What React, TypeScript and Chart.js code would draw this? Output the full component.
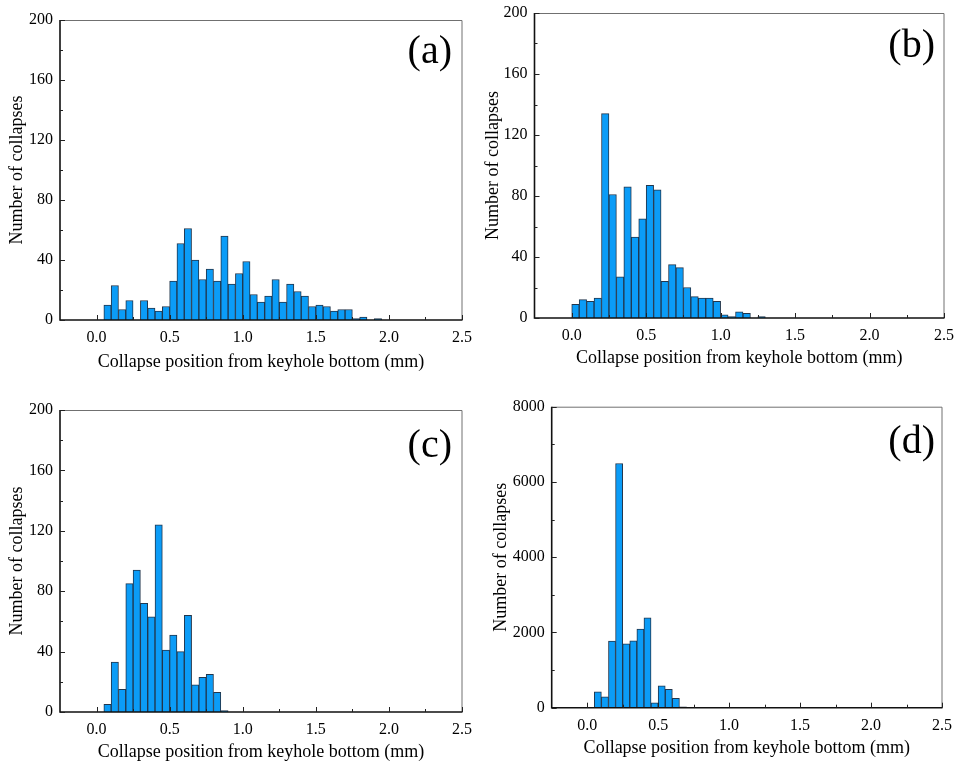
import React, { useEffect, useRef } from "react";
import { Chart, registerables } from "chart.js";
Chart.register(...registerables);

const BIN_WIDTH = 0.05;
const X_MIN = -0.25;
const X_MAX = 2.5;
const X_TICKS = [0, 0.5, 1.0, 1.5, 2.0, 2.5];
const X_MINOR = [0.25, 0.75, 1.25, 1.75, 2.25];
const X_TITLE = "Collapse position from keyhole bottom (mm)";
const Y_TITLE = "Number of collapses";

// histogram counts per 0.05 mm bin, first bin starting at startX
const startA = 0.05;
const countsA = [10, 23, 7, 13, 0, 13, 8, 6, 9, 26, 51, 61, 40, 27, 34, 26, 56, 24, 31, 39, 17, 12, 16, 27, 12, 24, 19, 16, 9, 10, 9, 6, 7, 7, 1, 2, 0, 1];
const startB = 0.0;
const countsB = [9, 12, 11, 13, 134, 81, 27, 86, 53, 65, 87, 84, 24, 35, 33, 20, 14, 13, 13, 11, 2, 1, 4, 3, 0, 1];
const startC = 0.05;
const countsC = [5, 33, 15, 85, 94, 72, 63, 124, 41, 51, 40, 64, 18, 23, 25, 13, 1];
const startD = 0.05;
const countsD = [420, 290, 1770, 6490, 1700, 1780, 2090, 2390, 130, 580, 490, 250, 20];

const yTicks200 = [0, 40, 80, 120, 160, 200];
const yMinor200 = [20, 60, 100, 140, 180];
const yTicks8000 = [0, 2000, 4000, 6000, 8000];
const yMinor8000 = [1000, 3000, 5000, 7000];

const FONT = '"Liberation Serif", "Times New Roman", serif';

type Spec = {
  letter: string;
  start: number;
  counts: number[];
  yTicks: number[];
  yMinor: number[];
  left: number;
  top: number;
  w: number;
  h: number;
  area: { l: number; t: number; r: number; b: number };
  yTitleX: number;
  xTitleY: number;
  letterRight: number;
  letterY: number;
};

const panels: Spec[] = [
  {
    letter: "(a)", start: startA, counts: countsA, yTicks: yTicks200, yMinor: yMinor200,
    left: 0, top: 0, w: 478, h: 381,
    area: { l: 60, t: 20, r: 462, b: 320 },
    yTitleX: 17.5, xTitleY: 362, letterRight: 452, letterY: 52,
  },
  {
    letter: "(b)", start: startB, counts: countsB, yTicks: yTicks200, yMinor: yMinor200,
    left: 478, top: 0, w: 478, h: 381,
    area: { l: 56.5, t: 13, r: 466, b: 318 },
    yTitleX: 15, xTitleY: 358, letterRight: 457, letterY: 46,
  },
  {
    letter: "(c)", start: startC, counts: countsC, yTicks: yTicks200, yMinor: yMinor200,
    left: 0, top: 381, w: 478, h: 382,
    area: { l: 60, t: 29, r: 462, b: 331 },
    yTitleX: 17.5, xTitleY: 371, letterRight: 452, letterY: 65,
  },
  {
    letter: "(d)", start: startD, counts: countsD, yTicks: yTicks8000, yMinor: yMinor8000,
    left: 478, top: 381, w: 478, h: 382,
    area: { l: 73.7, t: 25.7, r: 464, b: 326.7 },
    yTitleX: 23, xTitleY: 367, letterRight: 457, letterY: 61,
  },
];

function Panel({ spec }: { spec: Spec }) {
  const ref = useRef<HTMLCanvasElement | null>(null);
  useEffect(() => {
    if (!ref.current) return;
    const s = spec;
    const decor = {
      id: "decor",
      afterDraw(chart: any) {
        const { ctx, chartArea: a, scales } = chart;
        const xs = scales.x, ys = scales.y;
        ctx.save();
        // frame top/right
        ctx.strokeStyle = "#707070";
        ctx.lineWidth = 1;
        ctx.beginPath();
        ctx.moveTo(a.left, a.top + 0.5);
        ctx.lineTo(a.right, a.top + 0.5);
        ctx.lineTo(a.right, a.bottom);
        ctx.stroke();
        // axes
        ctx.strokeStyle = "#111";
        ctx.lineWidth = 1.6;
        ctx.beginPath();
        ctx.moveTo(a.left, a.top);
        ctx.lineTo(a.left, a.bottom);
        ctx.lineTo(a.right + 0.5, a.bottom);
        ctx.stroke();
        // ticks
        ctx.lineWidth = 1;
        ctx.strokeStyle = "#222";
        ctx.beginPath();
        X_TICKS.forEach((v) => {
          const p = Math.round(xs.getPixelForValue(v)) + 0.5;
          ctx.moveTo(p, a.bottom);
          ctx.lineTo(p, a.bottom - 5);
        });
        X_MINOR.forEach((v) => {
          const p = Math.round(xs.getPixelForValue(v)) + 0.5;
          ctx.moveTo(p, a.bottom);
          ctx.lineTo(p, a.bottom - 3);
        });
        s.yTicks.forEach((v) => {
          const p = Math.round(ys.getPixelForValue(v)) + 0.5;
          ctx.moveTo(a.left, p);
          ctx.lineTo(a.left + 5, p);
        });
        s.yMinor.forEach((v) => {
          const p = Math.round(ys.getPixelForValue(v)) + 0.5;
          ctx.moveTo(a.left, p);
          ctx.lineTo(a.left + 3, p);
        });
        ctx.stroke();
        // titles
        ctx.fillStyle = "#000";
        ctx.font = `18px ${FONT}`;
        ctx.textAlign = "center";
        ctx.textBaseline = "middle";
        ctx.fillText(X_TITLE, (a.left + a.right) / 2, s.xTitleY);
        ctx.save();
        ctx.translate(s.yTitleX, (a.top + a.bottom) / 2);
        ctx.rotate(-Math.PI / 2);
        ctx.fillText(Y_TITLE, 0, 0);
        ctx.restore();
        // panel letter
        ctx.font = `40px ${FONT}`;
        ctx.textAlign = "right";
        ctx.fillText(s.letter, s.letterRight, s.letterY);
        ctx.restore();
      },
    };
    const data = s.counts.map((c, i) => ({ x: s.start + (i + 0.5) * BIN_WIDTH, y: c }));
    const chart = new Chart(ref.current, {
      type: "bar",
      data: {
        datasets: [
          {
            data: data as any,
            backgroundColor: "#0b9cf7",
            borderColor: "#22364c",
            borderWidth: 1,
            barPercentage: 1,
            categoryPercentage: 1,
          },
        ],
      },
      options: {
        animation: false,
        responsive: false,
        devicePixelRatio: 1,
        layout: { padding: { left: 0, top: s.area.t, right: s.w - s.area.r, bottom: 0 } },
        plugins: { legend: { display: false }, tooltip: { enabled: false }, title: { display: false } },
        scales: {
          x: {
            type: "linear",
            min: X_MIN,
            max: X_MAX,
            offset: false,
            grid: { display: false, drawTicks: false },
            border: { display: false },
            ticks: {
              padding: 8,
              color: "#000",
              font: { family: FONT, size: 16 },
              maxRotation: 0,
              autoSkip: false,
              callback: (v: any) => Number(v).toFixed(1),
            },
            afterBuildTicks: (sc: any) => {
              sc.ticks = X_TICKS.map((v) => ({ value: v }));
            },
            afterFit: (sc: any) => {
              sc.height = s.h - s.area.b;
              sc.paddingLeft = 0;
              sc.paddingRight = 0;
            },
          },
          y: {
            type: "linear",
            min: s.yTicks[0],
            max: s.yTicks[s.yTicks.length - 1],
            grid: { display: false, drawTicks: false },
            border: { display: false },
            ticks: {
              padding: 7,
              color: "#000",
              font: { family: FONT, size: 16 },
              autoSkip: false,
              callback: (v: any) => String(v),
            },
            afterBuildTicks: (sc: any) => {
              sc.ticks = s.yTicks.map((v) => ({ value: v }));
            },
            afterFit: (sc: any) => {
              sc.width = s.area.l;
              sc.paddingTop = 0;
              sc.paddingBottom = 0;
            },
          },
        },
      } as any,
      plugins: [decor],
    });
    return () => chart.destroy();
  }, [spec]);
  return (
    <canvas
      ref={ref}
      width={spec.w}
      height={spec.h}
      style={{ position: "absolute", left: spec.left, top: spec.top, width: spec.w, height: spec.h }}
    />
  );
}

export default function App() {
  return (
    <div style={{ position: "absolute", left: 0, top: 0, width: 956, height: 763, background: "#fff" }}>
      {panels.map((p) => (
        <Panel key={p.letter} spec={p} />
      ))}
    </div>
  );
}
